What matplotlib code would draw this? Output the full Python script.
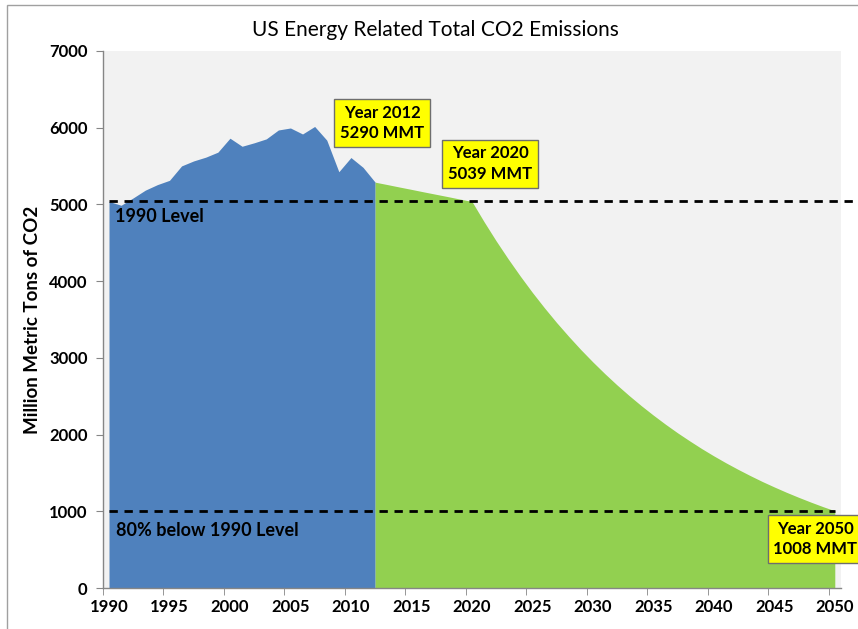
"""US energy related total CO2 emissions: history to 2012, path to 80% below 1990 by 2050."""

import matplotlib
matplotlib.use("Agg")
import matplotlib.pyplot as plt
from matplotlib.patches import Rectangle

plt.rcParams["font.family"] = ["Lato", "DejaVu Sans"]

# historical emissions, million metric tons
hist_years = list(range(1990, 2013))
hist_vals = [5039, 4989, 5085, 5186, 5258, 5314, 5502, 5567, 5616, 5681, 5863, 5758,
             5803, 5854, 5970, 5996, 5918, 6016, 5838, 5426, 5611, 5483, 5290]

# reduction path 2012 -> 2050
path_years = list(range(2012, 2051))
path_vals = [5290, 5259, 5227, 5196, 5164, 5133, 5102, 5070, 5039,
             4776, 4526, 4290, 4066, 3853, 3652, 3461, 3281, 3109, 2947,
             2793, 2647, 2509, 2378, 2254, 2136, 2024, 1919, 1818, 1723,
             1633, 1548, 1467, 1390, 1318, 1249, 1184, 1122, 1063, 1008]

level_1990 = 5039
level_80 = 1008
xlabels = list(range(1990, 2051, 5))
ylabels = list(range(0, 7001, 1000))

BLUE = "#4F81BD"
GREEN = "#92D050"
AXIS = "#868686"
DASH = (0, (3.0, 2.4))

fig = plt.figure(figsize=(8.58, 6.29), dpi=100)
ax = fig.add_axes([0.120, 0.065, 0.860, 0.854])
ax.set_facecolor("#F2F2F2")

ax.fill_between(hist_years, 0, hist_vals, color=BLUE, lw=0)
ax.fill_between(path_years, 0, path_vals, color=GREEN, lw=0)

ax.plot([1990, 2052.5], [level_1990] * 2, color="black", lw=2, ls=DASH, clip_on=False)
ax.plot([1990, 2050], [level_80] * 2, color="black", lw=2, ls=DASH)

ax.set_xlim(1989.5, 2050.5)
ax.set_ylim(0, 7000)
ax.set_xticks(xlabels)
ax.set_xticklabels([str(v) for v in xlabels], fontsize=12, fontweight="bold")
ax.tick_params(axis="x", length=0, pad=8)
ax.set_xticks([v - 0.5 for v in xlabels], minor=True)
ax.tick_params(axis="x", which="minor", length=5, color=AXIS, direction="out")
ax.set_yticks(ylabels)
ax.set_yticklabels([str(v) for v in ylabels], fontsize=12, fontweight="bold")
ax.tick_params(axis="y", length=5, color=AXIS, pad=6)

for s in ["top", "right"]:
    ax.spines[s].set_visible(False)
for s in ["left", "bottom"]:
    ax.spines[s].set_color(AXIS)
    ax.spines[s].set_linewidth(1.0)

ax.set_ylabel("Million Metric Tons of CO2", fontsize=13.5, fontweight="bold", labelpad=6)
fig.text(0.508, 0.953, "US Energy Related Total CO2 Emissions", ha="center", va="center", fontsize=15)

ax.text(1990.5, level_1990 - 190, "1990 Level", fontsize=13, fontweight="bold", va="center")
ax.text(1990.6, level_80 - 260, "80% below 1990 Level", fontsize=13, fontweight="bold", va="center")

box = dict(boxstyle="square,pad=0.35", fc="#FFFF00", ec="#6E6E6E", lw=1.0)
ax.text(2012.6, 6060, "Year 2012\n5290 MMT", ha="center", va="center", fontsize=12,
        fontweight="bold", bbox=box, linespacing=1.35)
ax.text(2021.5, 5530, "Year 2020\n5039 MMT", ha="center", va="center", fontsize=12,
        fontweight="bold", bbox=box, linespacing=1.35)
ax.text(2048.4, 640, "Year 2050\n1008 MMT", ha="center", va="center", fontsize=12,
        fontweight="bold", bbox=box, linespacing=1.35, clip_on=False)

# chart border
fig.patches.append(Rectangle((7 / 858, -0.01), 1.0, 1 - 5 / 629 + 0.01, transform=fig.transFigure,
                             fill=False, ec="#A0A0A0", lw=1.0))

fig.savefig("out.png", dpi=100)
